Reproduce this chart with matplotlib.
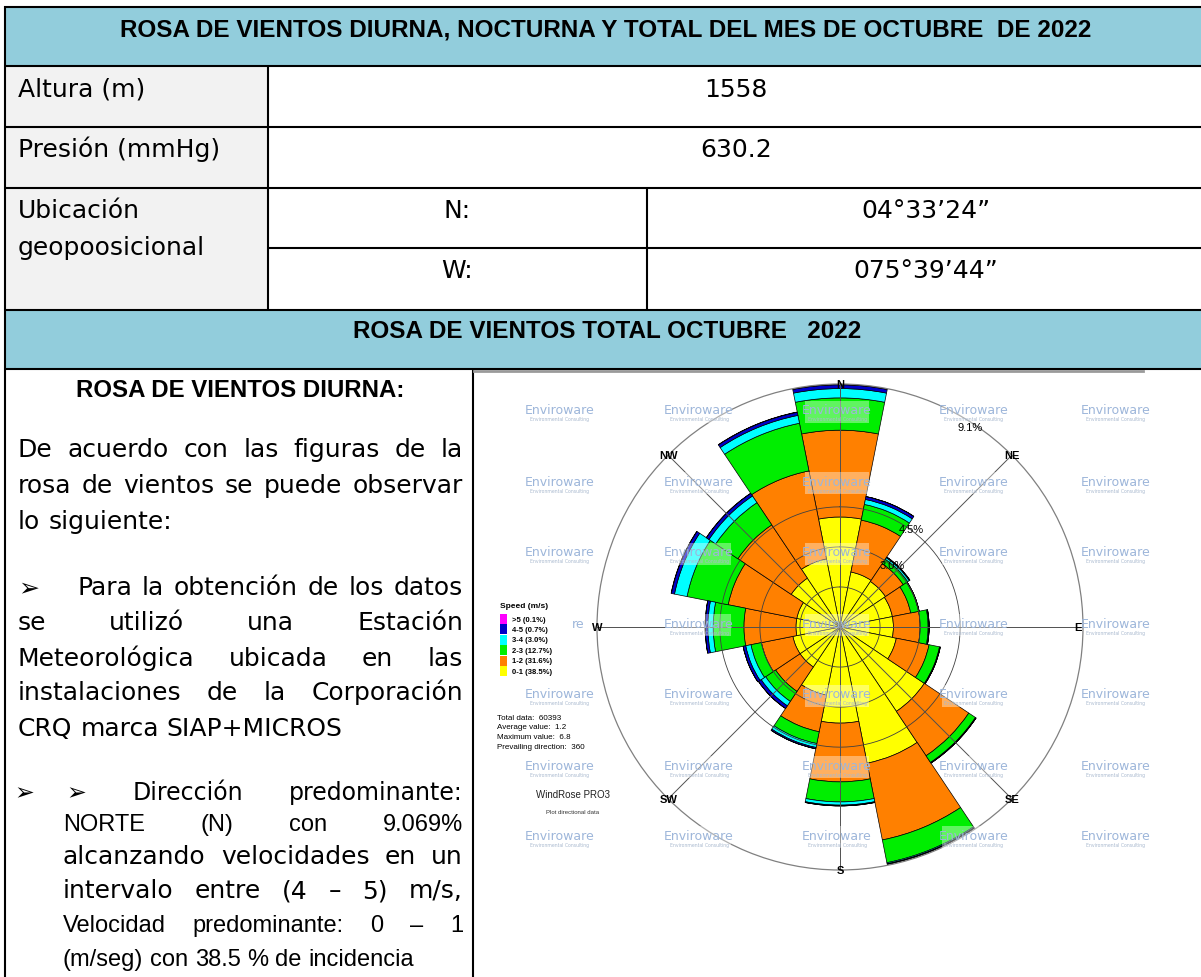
import numpy as np
import matplotlib.pyplot as plt
from matplotlib.patches import Rectangle

W, H = 1201, 978

# ---- datos de la rosa (porcentaje por direccion y clase de velocidad) ----
directions = ['N', 'NNE', 'NE', 'ENE', 'E', 'ESE', 'SE', 'SSE',
              'S', 'SSW', 'SW', 'WSW', 'W', 'WNW', 'NW', 'NNW']
speed_0_1 = [4.12, 2.10, 2.05, 2.00, 2.00, 2.15, 3.80, 5.20,
             3.60, 2.60, 1.80, 1.80, 1.65, 1.65, 2.20, 2.60]
speed_1_2 = [3.25, 1.98, 0.80, 0.70, 1.00, 1.25, 2.00, 2.93,
             2.20, 1.40, 1.10, 1.20, 1.95, 2.62, 2.40, 3.36]
speed_2_3 = [1.21, 0.60, 0.20, 0.30, 0.30, 0.40, 0.30, 0.87,
             0.75, 0.45, 0.45, 0.40, 1.15, 1.57, 1.00, 1.82]
speed_3_4 = [0.35, 0.19, 0.07, 0.02, 0.03, 0.02, 0.02, 0.04,
             0.12, 0.15, 0.20, 0.20, 0.20, 0.48, 0.30, 0.30]
speed_4_5 = [0.14, 0.11, 0.03, 0.00, 0.01, 0.01, 0.01, 0.02,
             0.03, 0.05, 0.12, 0.10, 0.10, 0.12, 0.12, 0.12]
speed_gt5 = [0.01, 0.00, 0.00, 0.00, 0.00, 0.00, 0.00, 0.00,
             0.00, 0.00, 0.00, 0.00, 0.00, 0.01, 0.00, 0.01]
speed_bins = [speed_0_1, speed_1_2, speed_2_3, speed_3_4, speed_4_5, speed_gt5]
speed_colors = ['#ffff00', '#ff8000', '#00ee00', '#00ffff', '#0000c8', '#ff00ff']
legend_labels = ['>5 (0.1%)', '4-5 (0.7%)', '3-4 (3.0%)', '2-3 (12.7%)',
                 '1-2 (31.6%)', '0-1 (38.5%)']
legend_colors = ['#ff00ff', '#0000c8', '#00ffff', '#00ee00', '#ff8000', '#ffff00']
rings = [1.5, 3.0, 4.5]
ring_labels = ['3.0%', '4.5%', '9.1%']
ring_label_r = [3.05, 4.55, 8.95]
ring_label_deg = [40, 36, 33]
r_max = 9.1
stats_lines = ['Total data:  60393', 'Average value:  1.2',
               'Maximum value:  6.8', 'Prevailing direction:  360']

title_1 = 'ROSA DE VIENTOS DIURNA, NOCTURNA Y TOTAL DEL MES DE OCTUBRE  DE 2022'
title_2 = 'ROSA DE VIENTOS TOTAL OCTUBRE   2022'
row_labels = ['Altura (m)', 'Presión (mmHg)', 'Ubicación', 'geopoosicional']
altura = '1558'
presion = '630.2'
lat_label, lat_value = 'N:', '04°33’24”'
lon_label, lon_value = 'W:', '075°39’44”'

BIG = dict(family=['DejaVu Sans'], fontsize=18, color='black')
SMALL = dict(family=['Liberation Sans', 'DejaVu Sans'], fontsize=17, color='black')
HEAD = dict(family=['Liberation Sans Narrow', 'Liberation Sans', 'DejaVu Sans'],
            fontweight='bold', color='black')
LBL = dict(family=['Liberation Sans', 'DejaVu Sans'])

fig = plt.figure(figsize=(W / 100, H / 100), dpi=100)
base = fig.add_axes([0, 0, 1, 1])
base.set_xlim(0, W)
base.set_ylim(H, 0)
base.axis('off')
renderer = fig.canvas.get_renderer()

# ---- tabla ----
base.add_patch(Rectangle((5, 8), W - 5, 59, fc='#92cddc', ec='none'))
base.add_patch(Rectangle((5, 311), W - 5, 59, fc='#92cddc', ec='none'))
base.add_patch(Rectangle((5, 67), 263, 244, fc='#f2f2f2', ec='none'))


def hline(y, x0, x1):
    base.plot([x0, x1], [y, y], color='black', lw=1.5, solid_capstyle='butt')


def vline(x, y0, y1):
    base.plot([x, x], [y0, y1], color='black', lw=1.5, solid_capstyle='butt')


for y in [8, 67, 128, 189, 311, 370]:
    hline(y, 4, W)
hline(249, 268, W)
vline(5, 7, H)
vline(268, 67, 311)
vline(647, 189, 311)
vline(473, 370, H)
base.plot([474, 1143], [372, 372], color='#9a9a9a', lw=2)


def fit(x, y, s, width, **kw):
    t = base.text(x, y, s, fontsize=20, ha='center', va='baseline', **kw)
    w = t.get_window_extent(renderer).width
    t.set_fontsize(20 * width / w)
    return t


fit(606, 37, title_1, 969, **HEAD)
fit(607, 338, title_2, 509, **HEAD)
fit(240, 397, 'ROSA DE VIENTOS DIURNA:', 327, **HEAD)

base.text(18, 97, row_labels[0], ha='left', va='baseline', **BIG)
base.text(18, 157, row_labels[1], ha='left', va='baseline', **BIG)
base.text(18, 218, row_labels[2], ha='left', va='baseline', **BIG)
base.text(18, 255, row_labels[3], ha='left', va='baseline', **BIG)
base.text(736, 97, altura, ha='center', va='baseline', **BIG)
base.text(736, 157, presion, ha='center', va='baseline', **BIG)
base.text(457, 218, lat_label, ha='center', va='baseline', **BIG)
base.text(457, 278, lon_label, ha='center', va='baseline', **BIG)
base.text(926, 218, lat_value, ha='center', va='baseline', **BIG)
base.text(926, 278, lon_value, ha='center', va='baseline', **BIG)


# ---- texto justificado ----
def line(text, y, x0, x1=None, **kw):
    words = text.split()
    ts = [base.text(x0, y, w, ha='left', va='baseline', **kw) for w in words]
    if x1 is None or len(ts) < 2:
        sp = base.text(0, 0, 'a a', **kw)
        sp2 = base.text(0, 0, 'aa', **kw)
        gap = sp.get_window_extent(renderer).width - sp2.get_window_extent(renderer).width
        sp.remove()
        sp2.remove()
    widths = [t.get_window_extent(renderer).width for t in ts]
    if x1 is not None and len(ts) > 1:
        gap = (x1 - x0 - sum(widths)) / (len(ts) - 1)
    x = x0
    for t, w in zip(ts, widths):
        t.set_x(x)
        x += w + gap


R_EDGE = 463
line('De acuerdo con las figuras de la', 457, 18, R_EDGE, **BIG)
line('rosa de vientos se puede observar', 493, 18, R_EDGE, **BIG)
line('lo siguiente:', 529, 18, **BIG)

base.text(18, 595, '➢', ha='left', va='baseline', **BIG)
line('Para la obtención de los datos', 595, 77, R_EDGE, **BIG)
line('se utilizó una Estación', 630, 18, R_EDGE, **BIG)
line('Meteorológica ubicada en las', 666, 18, R_EDGE, **BIG)
line('instalaciones de la Corporación', 700, 18, R_EDGE, **BIG)
line('CRQ marca SIAP+MICROS', 736, 18, **BIG)

base.text(14, 800, '➢', ha='left', va='baseline', **dict(BIG, fontsize=17))
line('➢ Dirección predominante:', 800, 66, R_EDGE, **dict(SMALL, family=['DejaVu Sans']))
line('NORTE (N) con 9.069%', 831, 63, R_EDGE, **SMALL)
line('alcanzando velocidades en un', 864, 63, R_EDGE, **BIG)
line('intervalo entre (4 – 5) m/s,', 898, 63, R_EDGE, **BIG)
line('Velocidad predominante: 0 – 1', 932, 63, R_EDGE, **SMALL)
line('(m/seg) con 38.5 % de incidencia', 966, 63, **SMALL)

# ---- rosa de vientos ----
cx, cy, R = 840, 628, 243
rose = fig.add_axes([(cx - R) / W, (H - cy - R) / H, 2 * R / W, 2 * R / H],
                    projection='polar')
rose.set_theta_zero_location('N')
rose.set_theta_direction(-1)
rose.set_ylim(0, r_max)
rose.set_xticks([])
rose.set_yticks([])
rose.grid(False)
rose.spines['polar'].set_color('#808080')
rose.spines['polar'].set_linewidth(0.9)

theta = np.arange(len(directions)) * 2 * np.pi / len(directions)
bottom = np.zeros(len(directions))
for vals, col in zip(speed_bins, speed_colors):
    vals = np.array(vals)
    rose.bar(theta, vals, width=2 * np.pi / len(directions), bottom=bottom,
             color=col, edgecolor='black', linewidth=0.5, zorder=2)
    bottom = bottom + vals

ring_t = np.linspace(0, 2 * np.pi, 361)
for r in rings:
    rose.plot(ring_t, np.full_like(ring_t, r), color='#404040', lw=0.6, zorder=3)
for k in range(8):
    a = k * np.pi / 4
    rose.plot([a, a], [0, r_max], color='#505050', lw=0.7, zorder=3)
for lab, rr, dg in zip(ring_labels, ring_label_r, ring_label_deg):
    rose.text(np.radians(dg), rr, lab, fontsize=8, ha='center', va='center',
              zorder=5, **LBL)
compass = ['N', 'NE', 'E', 'SE', 'S', 'SW', 'W', 'NW']
compass_r = [r_max, r_max, 8.9, r_max, r_max, r_max, r_max, r_max]
for k, (name, rr) in enumerate(zip(compass, compass_r)):
    rose.text(k * np.pi / 4, rr, name, fontsize=8, fontweight='bold',
              ha='center', va='center', zorder=5, **LBL)

# ---- capa superior: marcas de agua, leyenda ----
top = fig.add_axes([0, 0, 1, 1])
top.set_xlim(0, W)
top.set_ylim(H, 0)
top.axis('off')

wm_cols = [560, 699, 837, 974, 1116]
wm_rows = [413, 484, 555, 626, 697, 768, 838]
for wx in wm_cols:
    for wy in wm_rows:
        if wx == wm_cols[0] and wy == 626:
            # tapada casi por completo por la leyenda
            top.text(578, wy - 2, 're', fontsize=9, color='#9db6da',
                     ha='center', va='center', zorder=1.5, family='DejaVu Sans')
            continue
        top.add_patch(Rectangle((wx - 32, wy - 11), 64, 22, fc='white',
                                ec='none', alpha=0.38, zorder=1))
        top.text(wx, wy - 2, 'Enviroware', fontsize=9, color='#9db6da',
                 ha='center', va='center', zorder=1.5, family='DejaVu Sans')
        top.text(wx, wy + 7, 'Environmental Consulting', fontsize=3.3,
                 color='#a9b9cf', ha='center', va='center', zorder=1.5)

top.text(500, 606, 'Speed (m/s)', fontsize=6, fontweight='bold', ha='left',
         va='center', zorder=3, **LBL)
for i, (lab, col) in enumerate(zip(legend_labels, legend_colors)):
    yy = 620 + i * 10.4
    top.add_patch(Rectangle((500, yy - 5), 7, 10, fc=col, ec='none', zorder=3))
    top.text(512, yy, lab, fontsize=5.5, fontweight='bold', ha='left',
             va='center', zorder=3, **LBL)
for i, s in enumerate(stats_lines):
    top.text(497, 718 + 9.8 * i, s, fontsize=5.8, ha='left', va='center',
             zorder=3, **LBL)
top.text(573, 795, 'WindRose PRO3', fontsize=7, ha='center', va='center',
         color='#222222', zorder=3, **LBL)
top.text(573, 812, 'Plot directional data', fontsize=4.3, ha='center',
         va='center', color='#333333', zorder=3, **LBL)

fig.savefig('out.png', dpi=100)
